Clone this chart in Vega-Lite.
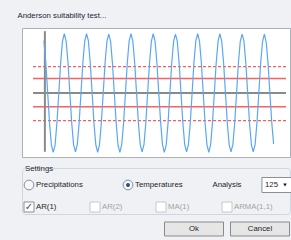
{
  "$schema": "https://vega.github.io/schema/vega-lite/v6.json",
  "background": "#eff1f4",
  "autosize": {"type": "pad"},
  "padding": {"left": 17, "top": 11, "right": 0, "bottom": 3},
  "title": {"text": "Anderson suitability test...", "anchor": "start", "dx": -4, "fontSize": 7.8, "font": "Liberation Sans", "fontWeight": "normal", "color": "#1b2636", "baseline": "middle", "offset": 4},
  "bounds": "flush",
  "spacing": 11,
  "config": {"font": "Liberation Sans", "view": {"stroke": null}},
  "vconcat": [
    {
      "width": 268,
      "height": 129,
      "view": {"fill": "white", "stroke": "#aab1ba"},
      "layer": [
        {
          "data": {"values": [{"level": 0.44}, {"level": -0.46}]},
          "mark": {"type": "rule", "color": "#ff5a5a", "strokeWidth": 1.2, "strokeDash": [3, 2]},
          "encoding": {
            "x": {"datum": -4.9, "type": "quantitative", "scale": {"domain": [-10.85, 133.85]}, "axis": null},
            "x2": {"datum": 131.7},
            "y": {"field": "level", "type": "quantitative", "scale": {"domain": [-1.067, 1.083]}, "axis": null}
          }
        },
        {
          "data": {"values": [{"level": 0.24}, {"level": -0.23}]},
          "mark": {"type": "rule", "color": "#ff5f5f", "strokeWidth": 1.5},
          "encoding": {
            "x": {"datum": -4.9, "type": "quantitative", "scale": {"domain": [-10.85, 133.85]}, "axis": null},
            "x2": {"datum": 131.7},
            "y": {"field": "level", "type": "quantitative", "scale": {"domain": [-1.067, 1.083]}, "axis": null}
          }
        },
        {
          "data": {"values": [{"level": 0}]},
          "mark": {"type": "rule", "color": "#8a8a8a", "strokeWidth": 2},
          "encoding": {
            "x": {"datum": -4.9, "type": "quantitative", "scale": {"domain": [-10.85, 133.85]}, "axis": null},
            "x2": {"datum": 131.7},
            "y": {"field": "level", "type": "quantitative", "scale": {"domain": [-1.067, 1.083]}, "axis": null}
          }
        },
        {
          "data": {"values": [{"lag": 1.5}]},
          "mark": {"type": "rule", "color": "#8a8a8a", "strokeWidth": 2},
          "encoding": {
            "x": {"field": "lag", "type": "quantitative", "scale": {"domain": [-10.85, 133.85]}, "axis": null},
            "y": {"datum": 1.03, "type": "quantitative", "scale": {"domain": [-1.067, 1.083]}, "axis": null},
            "y2": {"datum": -0.98}
          }
        },
        {
          "data": {"values": [
            {"lag":1,"acf":0.87},{"lag":2,"acf":0.51},{"lag":3,"acf":0.01},{"lag":4,"acf":-0.49},{"lag":5,"acf":-0.86},{"lag":6,"acf":-0.99},{"lag":7,"acf":-0.87},{"lag":8,"acf":-0.5},{"lag":9,"acf":-0.01},{"lag":10,"acf":0.49},{"lag":11,"acf":0.86},{"lag":12,"acf":0.99},
            {"lag":13,"acf":0.86},{"lag":14,"acf":0.5},{"lag":15,"acf":0.0},{"lag":16,"acf":-0.5},{"lag":17,"acf":-0.86},{"lag":18,"acf":-0.98},{"lag":19,"acf":-0.86},{"lag":20,"acf":-0.5},{"lag":21,"acf":0.0},{"lag":22,"acf":0.5},{"lag":23,"acf":0.86},{"lag":24,"acf":0.99},
            {"lag":25,"acf":0.87},{"lag":26,"acf":0.5},{"lag":27,"acf":0.01},{"lag":28,"acf":-0.5},{"lag":29,"acf":-0.86},{"lag":30,"acf":-0.99},{"lag":31,"acf":-0.86},{"lag":32,"acf":-0.49},{"lag":33,"acf":0.0},{"lag":34,"acf":0.5},{"lag":35,"acf":0.86},{"lag":36,"acf":0.98},
            {"lag":37,"acf":0.86},{"lag":38,"acf":0.49},{"lag":39,"acf":-0.01},{"lag":40,"acf":-0.5},{"lag":41,"acf":-0.87},{"lag":42,"acf":-0.99},{"lag":43,"acf":-0.86},{"lag":44,"acf":-0.5},{"lag":45,"acf":0.0},{"lag":46,"acf":0.5},{"lag":47,"acf":0.87},{"lag":48,"acf":0.99},
            {"lag":49,"acf":0.86},{"lag":50,"acf":0.5},{"lag":51,"acf":0.0},{"lag":52,"acf":-0.5},{"lag":53,"acf":-0.86},{"lag":54,"acf":-0.98},{"lag":55,"acf":-0.86},{"lag":56,"acf":-0.5},{"lag":57,"acf":0.01},{"lag":58,"acf":0.5},{"lag":59,"acf":0.86},{"lag":60,"acf":0.99},
            {"lag":61,"acf":0.86},{"lag":62,"acf":0.5},{"lag":63,"acf":0.0},{"lag":64,"acf":-0.49},{"lag":65,"acf":-0.86},{"lag":66,"acf":-0.99},{"lag":67,"acf":-0.87},{"lag":68,"acf":-0.5},{"lag":69,"acf":0.0},{"lag":70,"acf":0.5},{"lag":71,"acf":0.86},{"lag":72,"acf":0.98},
            {"lag":73,"acf":0.86},{"lag":74,"acf":0.49},{"lag":75,"acf":0.0},{"lag":76,"acf":-0.5},{"lag":77,"acf":-0.86},{"lag":78,"acf":-0.98},{"lag":79,"acf":-0.86},{"lag":80,"acf":-0.5},{"lag":81,"acf":0.0},{"lag":82,"acf":0.51},{"lag":83,"acf":0.87},{"lag":84,"acf":0.99},
            {"lag":85,"acf":0.86},{"lag":86,"acf":0.5},{"lag":87,"acf":0.0},{"lag":88,"acf":-0.5},{"lag":89,"acf":-0.86},{"lag":90,"acf":-0.99},{"lag":91,"acf":-0.86},{"lag":92,"acf":-0.49},{"lag":93,"acf":0.0},{"lag":94,"acf":0.5},{"lag":95,"acf":0.86},{"lag":96,"acf":0.99},
            {"lag":97,"acf":0.86},{"lag":98,"acf":0.5},{"lag":99,"acf":0.0},{"lag":100,"acf":-0.5},{"lag":101,"acf":-0.86},{"lag":102,"acf":-0.98},{"lag":103,"acf":-0.86},{"lag":104,"acf":-0.5},{"lag":105,"acf":0.0},{"lag":106,"acf":0.5},{"lag":107,"acf":0.86},{"lag":108,"acf":0.98},
            {"lag":109,"acf":0.86},{"lag":110,"acf":0.5},{"lag":111,"acf":0.0},{"lag":112,"acf":-0.5},{"lag":113,"acf":-0.86},{"lag":114,"acf":-0.98},{"lag":115,"acf":-0.86},{"lag":116,"acf":-0.5},{"lag":117,"acf":0.0},{"lag":118,"acf":0.49},{"lag":119,"acf":0.85},{"lag":120,"acf":0.98},
            {"lag":121,"acf":0.85},{"lag":122,"acf":0.49},{"lag":123,"acf":0.0},{"lag":124,"acf":-0.49},{"lag":125,"acf":-0.85}
          ]},
          "mark": {"type": "line", "color": "#5aa8f5", "strokeWidth": 1.2},
          "encoding": {
            "x": {"field": "lag", "type": "quantitative", "scale": {"domain": [-10.85, 133.85]}, "axis": null},
            "y": {"field": "acf", "type": "quantitative", "scale": {"domain": [-1.067, 1.083]}, "axis": null}
          }
        }
      ]
    },
    {
      "width": 268,
      "height": 46,
      "title": {"text": "Settings", "anchor": "start", "dx": 3, "fontSize": 7.8, "fontWeight": "normal", "color": "#2a2a2a", "baseline": "middle", "offset": -9},
      "view": {"stroke": "#cfd6de", "cornerRadius": 3, "fill": null},
      "data": {"values": [
        {"line": 1, "slot": 0, "widget": "radio", "label": "Precipitations", "checked": false, "enabled": true},
        {"line": 1, "slot": 3, "widget": "radio", "label": "Temperatures", "checked": true, "enabled": true},
        {"line": 1, "slot": 6, "widget": "label", "label": "Analysis", "checked": false, "enabled": true},
        {"line": 1, "slot": 7, "widget": "dropdown", "label": "125", "checked": false, "enabled": true},
        {"line": 2, "slot": 0, "widget": "checkbox", "label": "AR(1)", "checked": true, "enabled": true},
        {"line": 2, "slot": 2, "widget": "checkbox", "label": "AR(2)", "checked": false, "enabled": false},
        {"line": 2, "slot": 4, "widget": "checkbox", "label": "MA(1)", "checked": false, "enabled": false},
        {"line": 2, "slot": 6, "widget": "checkbox", "label": "ARMA(1,1)", "checked": false, "enabled": false},
        {"line": 3, "slot": 5, "widget": "button", "label": "Ok", "checked": false, "enabled": true},
        {"line": 3, "slot": 7, "widget": "button", "label": "Cancel", "checked": false, "enabled": true}
      ]},
      "encoding": {
        "x": {"field": "slot", "type": "ordinal", "scale": {"type": "point", "domain": [0, 1, 2, 3, 4, 5, 6, 7], "range": [7, 238], "padding": 0}, "axis": null},
        "y": {"field": "line", "type": "ordinal", "scale": {"type": "point", "domain": [1, 2, 3], "range": [17, 61], "padding": 0}, "axis": null}
      },
      "layer": [
        {
          "transform": [{"filter": "datum.widget === 'radio'"}],
          "mark": {"type": "point", "shape": "circle", "size": 95, "fill": "#f6f7f8", "stroke": "#8b9097", "strokeWidth": 1, "opacity": 1}
        },
        {
          "transform": [{"filter": "datum.widget === 'radio' && datum.checked"}],
          "mark": {"type": "point", "shape": "circle", "size": 16, "fill": "#21548a", "strokeWidth": 0, "opacity": 1}
        },
        {
          "transform": [{"filter": "datum.widget === 'checkbox'"}],
          "mark": {"type": "point", "shape": "square", "size": 100, "fill": "#ffffff", "strokeWidth": 1, "opacity": 1},
          "encoding": {"stroke": {"condition": {"test": "datum.enabled", "value": "#8e8f8f"}, "value": "#c8c8c8"}}
        },
        {
          "transform": [{"filter": "datum.widget === 'checkbox' && datum.checked"}],
          "mark": {"type": "text", "text": "✓", "font": "DejaVu Sans", "fontSize": 10, "fontWeight": "bold", "color": "#27538a", "baseline": "middle", "align": "center"}
        },
        {
          "transform": [{"filter": "datum.widget === 'button'"}],
          "mark": {"type": "point", "shape": "M-1,-0.237L1,-0.237L1,0.237L-1,0.237Z", "size": 3481, "fill": "#e6e6e6", "stroke": "#8a8a8a", "strokeWidth": 1, "opacity": 1}
        },
        {
          "transform": [{"filter": "datum.widget === 'dropdown'"}],
          "mark": {"type": "point", "shape": "M0.13,-0.5L2.13,-0.5L2.13,0.5L0.13,0.5Z", "size": 900, "fill": "#ffffff", "stroke": "#8a8f96", "strokeWidth": 1, "opacity": 1}
        },
        {
          "transform": [{"filter": "datum.widget === 'dropdown'"}],
          "mark": {"type": "point", "shape": "triangle-down", "size": 14, "fill": "#1e1e1e", "strokeWidth": 0, "opacity": 1, "xOffset": 25}
        },
        {
          "transform": [{"filter": "datum.widget === 'radio' || datum.widget === 'checkbox'"}],
          "mark": {"type": "text", "align": "left", "baseline": "middle", "dx": 7, "fontSize": 7.8},
          "encoding": {
            "text": {"field": "label"},
            "color": {"condition": {"test": "datum.enabled", "value": "#1e1e1e"}, "value": "#a3a3a3"}
          }
        },
        {
          "transform": [{"filter": "datum.widget === 'label' || datum.widget === 'button'"}],
          "mark": {"type": "text", "align": "center", "baseline": "middle", "fontSize": 7.8, "color": "#1e1e1e"},
          "encoding": {"text": {"field": "label"}}
        },
        {
          "transform": [{"filter": "datum.widget === 'dropdown'"}],
          "mark": {"type": "text", "align": "left", "baseline": "middle", "dx": 5, "fontSize": 7.8, "color": "#1e1e1e"},
          "encoding": {"text": {"field": "label"}}
        }
      ]
    }
  ]
}
